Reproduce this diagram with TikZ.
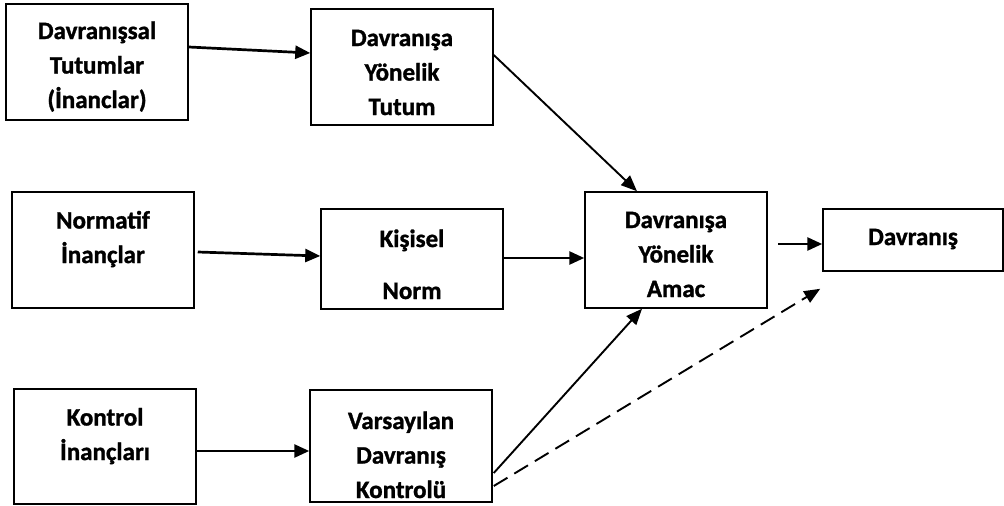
\documentclass[tikz,border=0pt]{standalone}
\usepackage{fontspec}
\setmainfont{Carlito}[BoldFeatures={FakeBold=1.2}]
\usetikzlibrary{arrows.meta,calc}
\tikzset{
  box/.style={draw=black,line width=1.5pt,fill=white,inner sep=0pt},
  lbl/.style={font=\bfseries\fontsize{25}{34.5}\selectfont,align=center,inner sep=0pt,anchor=base},
  arr/.style={line width=2.7pt,-{Triangle[length=15pt,width=13pt]}},
  darr/.style={line width=1.9pt,-{Triangle[length=16pt,width=13pt]}},
  dasharr/.style={darr,dash pattern=on 16pt off 8pt}
}
\begin{document}
\begin{tikzpicture}[x=1pt,y=-1pt]
\useasboundingbox (0,0) rectangle (1004,506);
% boxes
\node[box,minimum width=182pt,minimum height=116pt] (b1) at (97,62) {};
\node[box,minimum width=182pt,minimum height=116pt] (b2) at (402,67) {};
\node[box,minimum width=182pt,minimum height=116pt] (n1) at (103,250) {};
\node[box,minimum width=182pt,minimum height=100pt] (n2) at (412,259) {};
\node[box,minimum width=182pt,minimum height=116pt] (am) at (676,250) {};
\node[box,minimum width=180pt,minimum height=62pt] (dv) at (913,240) {};
\node[box,minimum width=182pt,minimum height=115pt] (k1) at (105,446.5) {};
\node[box,minimum width=182pt,minimum height=112pt] (k2) at (401,446) {};
% labels (anchor = baseline of last line)
\node[lbl] (t1) at (97,108) {Davranışsal\\Tutumlar\\(İnanclar)};
\node[lbl] (t2) at (402,115) {Davranışa\\Yönelik\\Tutum};
\node[lbl] (t3) at (103,263) {Normatif\\İnançlar};
\node[lbl] (t4) at (412,299) {Kişisel\\[17.5pt]Norm};
\node[lbl] (t5) at (676,297) {Davranışa\\Yönelik\\Amac};
\node[lbl] (t6) at (913,245) {Davranış};
\node[lbl] (t7) at (105,460) {Kontrol\\İnançları};
\node[lbl] (t8) at (401,498) {Varsayılan\\Davranış\\Kontrolü};
% connectors
\draw[arr] ($(b1.east)+(0,-15)$) -- ($(b2.west)+(0,-14)$);
\draw[darr] ($(b2.east)+(0,-12)$) -- ($(am.north)+(-39,0)$);
\draw[arr] ($(n1.east)+(3,2)$) -- ($(n2.west)+(0,-3)$);
\draw[arr] ($(n2.east)+(0,-1)$) -- ($(am.west)+(0,8)$);
\draw[arr] ($(dv.west)+(-44,4)$) -- ($(dv.west)+(0,4)$);
\draw[arr] ($(k1.east)+(0,4.5)$) -- ($(k2.west)+(0,5)$);
\draw[darr] ($(k2.east)+(1,27)$) -- ($(am.south)+(-34,0)$);
\draw[dasharr] ($(k2.east)+(1,40)$) -- ($(dv.south west)+(-2,17)$);
\end{tikzpicture}
\end{document}
